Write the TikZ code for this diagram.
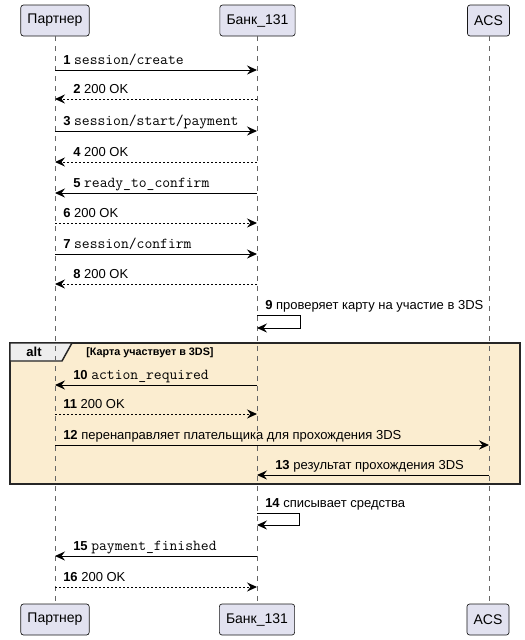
\documentclass[tikz,border=0pt]{standalone}
\usepackage{fontspec}
\setmainfont{Liberation Sans}
\usetikzlibrary{arrows.meta}
\definecolor{partfill}{HTML}{E2E2F0}
\definecolor{partdraw}{HTML}{181818}
\definecolor{altfill}{HTML}{FBEDD0}
\definecolor{tabfill}{HTML}{EEEEEE}
\tikzset{
  part/.style={draw=partdraw, line width=0.5pt, fill=partfill, rounded corners=2pt,
    minimum height=23.25pt, inner xsep=5pt, font=\fontsize{10.5pt}{12pt}\selectfont},
  life/.style={draw=gray!80!black, line width=0.5pt, dash pattern=on 3.75pt off 3.75pt},
  msg/.style={draw=black, line width=0.75pt, -{Stealth[length=7.5pt,width=6.8pt,inset=2.6pt]}},
  ret/.style={msg, dash pattern=on 1.5pt off 1.5pt},
  lbl/.style={inner sep=0pt, anchor=base west, font=\fontsize{9.75pt}{11pt}\selectfont},
}
\newcommand\num[1]{\textbf{#1}~}
\newcommand\mt[1]{{\ttfamily\fontsize{11.4pt}{12pt}\selectfont #1}}
% right-going message: from, to, y, style, label
\newcommand\rmsg[5]{\draw[#4] (#1 |- 0,#3) -- (#2 |- 0,#3);
  \path (#1 |- 0,#3) ++(8,-6) node[lbl]{#5};}
% left-going message
\newcommand\lmsg[5]{\draw[#4] (#1 |- 0,#3) -- (#2 |- 0,#3);
  \path (#2 |- 0,#3) ++(18,-6) node[lbl]{#5};}
\begin{document}
\begin{tikzpicture}[x=0.75pt,y=-0.75pt]
\useasboundingbox[fill=white] (0,0) rectangle (525,640);
% alt group background
\draw[fill=altfill, draw=black!85, line width=1.1pt] (10,343) rectangle (520,484);
\draw[fill=tabfill, draw=black!85, line width=1.1pt] (10,343) -- (72,343) -- (62,361) -- (10,361) -- cycle;
\node[font=\bfseries\fontsize{9.75pt}{11pt}\selectfont] (altlbl) at (34,352) {alt};
\node[anchor=west, inner sep=0pt, font=\bfseries\fontsize{8.1pt}{10pt}\selectfont] (altcond) at (86,353) {[Карта участвует в 3DS]};
% participants
\node[part] (pT) at (55,20.5) {Партнер};
\node[part] (bT) at (257.5,20.5) {Банк\_131};
\node[part] (aT) at (488.5,20.5) {ACS};
\node[part] (pB) at (55,619.5) {Партнер};
\node[part] (bB) at (257,619.5) {Банк\_131};
\node[part] (aB) at (488,619.5) {ACS};
\coordinate (P) at (55,0);
\coordinate (B) at (257,0);
\coordinate (A) at (489,0);
\draw[life] (P |- pT.south) -- (P |- pB.north);
\draw[life] (B |- bT.south) -- (B |- bB.north);
\draw[life] (A |- aT.south) -- (A |- aB.north);
% messages
\rmsg{P}{B}{70}{msg}{\num{1}\mt{session/create}}
\lmsg{B}{P}{99}{ret}{\num{2}200 OK}
\rmsg{P}{B}{131}{msg}{\num{3}\mt{session/start/payment}}
\lmsg{B}{P}{162}{ret}{\num{4}200 OK}
\lmsg{B}{P}{193}{msg}{\num{5}\mt{ready\_to\_confirm}}
\rmsg{P}{B}{223}{ret}{\num{6}200 OK}
\rmsg{P}{B}{254}{msg}{\num{7}\mt{session/confirm}}
\lmsg{B}{P}{284}{ret}{\num{8}200 OK}
% self 9
\draw[msg] (B |- 0,315) -- (300,315) -- (300,328) -- (B |- 0,328);
\path (B |- 0,315) ++(8,-6) node[lbl]{\num{9}проверяет карту на участие в 3DS};
\lmsg{B}{P}{385}{msg}{\num{10}\mt{action\_required}}
\rmsg{P}{B}{414}{ret}{\num{11}200 OK}
\rmsg{P}{A}{445}{msg}{\num{12}перенаправляет плательщика для прохождения 3DS}
\lmsg{A}{B}{475}{msg}{\num{13}результат прохождения 3DS}
% self 14
\draw[msg] (B |- 0,513) -- (299,513) -- (299,525) -- (B |- 0,525);
\path (B |- 0,513) ++(8,-6) node[lbl]{\num{14}списывает средства};
\lmsg{B}{P}{556}{msg}{\num{15}\mt{payment\_finished}}
\rmsg{P}{B}{587}{ret}{\num{16}200 OK}
\end{tikzpicture}
\end{document}
